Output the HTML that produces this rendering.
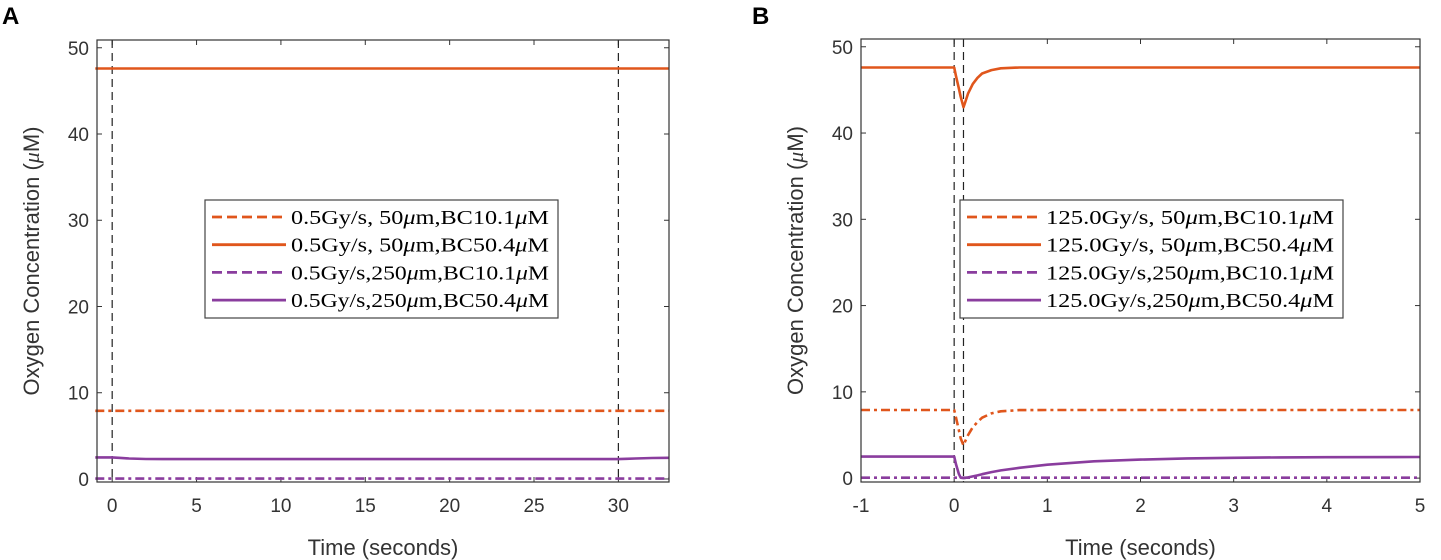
<!DOCTYPE html>
<html><head><meta charset="utf-8"><style>
body{margin:0;background:#fff;}
svg{display:block;font-family:"Liberation Sans",sans-serif;}
</style></head><body>
<svg id="c" width="1441" height="560"></svg>
<script>
// Panel A data
const aTimes=[-1,0,0.5,1,2,3,5,10,20,29.9,30,30.5,31,32,33];
const aOrangeDash=[7.9,7.9,7.9,7.9,7.9,7.9,7.9,7.9,7.9,7.9,7.9,7.9,7.9,7.9,7.9];
const aOrangeSolid=[47.6,47.6,47.6,47.6,47.6,47.6,47.6,47.6,47.6,47.6,47.6,47.6,47.6,47.6,47.6];
const aPurpleDash=[0.05,0.05,0.05,0.05,0.05,0.05,0.05,0.05,0.05,0.05,0.05,0.05,0.05,0.05,0.05];
const aPurpleSolid=[2.5,2.5,2.45,2.38,2.32,2.3,2.3,2.3,2.3,2.3,2.3,2.34,2.38,2.43,2.46];
// Panel B data
const bTimes=[-1,0,0.02,0.05,0.07,0.1,0.12,0.15,0.2,0.25,0.3,0.4,0.5,0.7,1,1.5,2,2.5,3,3.5,4,5];
const bOrangeDash=[7.9,7.9,7,5.6,4.6,3.8,4.3,5.0,5.9,6.5,7.0,7.5,7.75,7.88,7.9,7.9,7.9,7.9,7.9,7.9,7.9,7.9];
const bOrangeSolid=[47.6,47.6,46.6,45.2,44.2,43.0,43.6,44.6,45.7,46.4,46.9,47.3,47.5,47.6,47.6,47.6,47.6,47.6,47.6,47.6,47.6,47.6];
const bPurpleDash=[0.05,0.05,0.05,0.05,0.05,0.05,0.05,0.05,0.05,0.05,0.05,0.05,0.05,0.05,0.05,0.05,0.05,0.05,0.05,0.05,0.05,0.05];
const bPurpleSolid=[2.5,2.5,1.6,0.5,0.05,0,0.02,0.08,0.2,0.32,0.45,0.7,0.9,1.2,1.55,1.95,2.15,2.28,2.35,2.4,2.43,2.45];
const yTicks=[0,10,20,30,40,50];
const aXTicks=[0,5,10,15,20,25,30];
const bXTicks=[-1,0,1,2,3,4,5];
const aVLines=[0,30];
const bVLines=[0,0.1];
const aLegend=[["0.5Gy/s, 50","m,BC10.1","M"],["0.5Gy/s, 50","m,BC50.4","M"],["0.5Gy/s,250","m,BC10.1","M"],["0.5Gy/s,250","m,BC50.4","M"]];
const bLegend=[["125.0Gy/s, 50","m,BC10.1","M"],["125.0Gy/s, 50","m,BC50.4","M"],["125.0Gy/s,250","m,BC10.1","M"],["125.0Gy/s,250","m,BC50.4","M"]];

const NS="http://www.w3.org/2000/svg";
const svg=document.getElementById('c');
function el(tag,attrs,parent){const e=document.createElementNS(NS,tag);for(const k in attrs)e.setAttribute(k,attrs[k]);(parent||svg).appendChild(e);return e;}
function txt(parent,s){parent.appendChild(document.createTextNode(s));}
const OR="#e0561c", PU="#8a3d9e";
const styles=[{c:OR,d:"9 4 3 4",ld:"10 5"},{c:OR,d:"",ld:""},{c:PU,d:"9 4 3 4",ld:"10 5"},{c:PU,d:"",ld:""}];

function panel(p){
  const g=el('g',{});
  
  
  const X=v=>p.x0+(v-p.xmin)/(p.xmax-p.xmin)*(p.x1-p.x0);
  const Y=v=>p.y0-(v-p.ymin)/(p.ymax-p.ymin)*(p.y0-p.y1);
  yTicks.forEach(t=>{
    const y=Y(t);
    el('line',{x1:p.x0,x2:p.x0+5,y1:y,y2:y,stroke:'#333','stroke-width':1},g);
    el('line',{x1:p.x1,x2:p.x1-5,y1:y,y2:y,stroke:'#333','stroke-width':1},g);
    const tx=el('text',{x:p.x0-8,y:y+7,'text-anchor':'end','font-size':19,fill:'#333'},g);tx.textContent=t;
    
    
  });
  p.xt.forEach(t=>{
    const x=X(t);
    el('line',{x1:x,x2:x,y1:p.y0,y2:p.y0-5,stroke:'#333','stroke-width':1},g);
    el('line',{x1:x,x2:x,y1:p.y1,y2:p.y1+5,stroke:'#333','stroke-width':1},g);
    const tx=el('text',{x:x,y:p.y0+30,'text-anchor':'middle','font-size':19,fill:'#333'},g);tx.textContent=t;
    
    
  });
  p.vl.forEach(v=>{
    const l=el('line',{x1:X(v),x2:X(v),y1:p.y1,y2:p.y0,stroke:'#222','stroke-width':1.2,'stroke-dasharray':'8 5'},g);
    
    
  });
  p.series.forEach((s,i)=>{
    const pts=p.t.map((t,j)=>X(t).toFixed(1)+","+Y(s[j]).toFixed(1)).join(" ");
    const pl=el('polyline',{points:pts,fill:'none',stroke:styles[i].c,'stroke-width':2.6,'stroke-dasharray':styles[i].d,'stroke-linejoin':'round'},g);
    
    
  });
  el('rect',{x:p.x0,y:p.y1,width:p.x1-p.x0,height:p.y0-p.y1,fill:'none',stroke:'#333','stroke-width':1.2},g);
  const xl=el('text',{x:(p.x0+p.x1)/2,y:555,'text-anchor':'middle','font-size':22,fill:'#333'},g);xl.textContent="Time (seconds)";
  
  
  const yl=el('text',{x:0,y:0,'text-anchor':'middle','font-size':22,fill:'#333',transform:`translate(${p.x0-58},${(p.y0+p.y1)/2}) rotate(-90)`},g);
  txt(yl,"Oxygen Concentration (");
  const mu=el('tspan',{'font-style':'italic','font-family':'"Liberation Serif",serif'},yl);mu.textContent="μ";
  txt(yl,"M)");
  
  
  const pl=el('text',{x:p.lx,y:24,'font-size':24,'font-weight':'bold',fill:'#000'},g);pl.textContent=p.letter;
  
  
  const lg=el('g',{},g);
  
  
  el('rect',{x:p.lgx,y:200,width:p.lgw,height:118,fill:'#fff',stroke:'#444','stroke-width':1.2},lg);
  p.leg.forEach((t,i)=>{
    const y=217+i*27.7;
    const e=el('g',{},lg);
    
    
    el('line',{x1:p.lgx+7,x2:p.lgx+81,y1:y,y2:y,stroke:styles[i].c,'stroke-width':2.8,'stroke-dasharray':styles[i].ld},e);
    const tx=el('text',{x:p.lgx+86,y:y+7,'font-size':20,'font-family':'"Liberation Serif",serif',fill:'#000',textLength:p.tl,lengthAdjust:'spacingAndGlyphs'},e);
    txt(tx,t[0]);
    const m1=el('tspan',{'font-style':'italic'},tx);m1.textContent="μ";
    txt(tx,t[1]);
    const m2=el('tspan',{'font-style':'italic'},tx);m2.textContent="μ";
    txt(tx,t[2]);
  });
}
panel({name:'panel-a',letter:'A',lx:2,x0:97,x1:669,y0:482,y1:40,xmin:-0.9,xmax:33,ymin:-0.35,ymax:50.9,xt:aXTicks,vl:aVLines,t:aTimes,series:[aOrangeDash,aOrangeSolid,aPurpleDash,aPurpleSolid],leg:aLegend,lgx:205,lgw:353,tl:258});
panel({name:'panel-b',letter:'B',lx:752,x0:861,x1:1420,y0:482,y1:39,xmin:-1,xmax:5,ymin:-0.45,ymax:50.9,xt:bXTicks,vl:bVLines,t:bTimes,series:[bOrangeDash,bOrangeSolid,bPurpleDash,bPurpleSolid],leg:bLegend,lgx:960,lgw:383,tl:288});
</script>
</body></html>
